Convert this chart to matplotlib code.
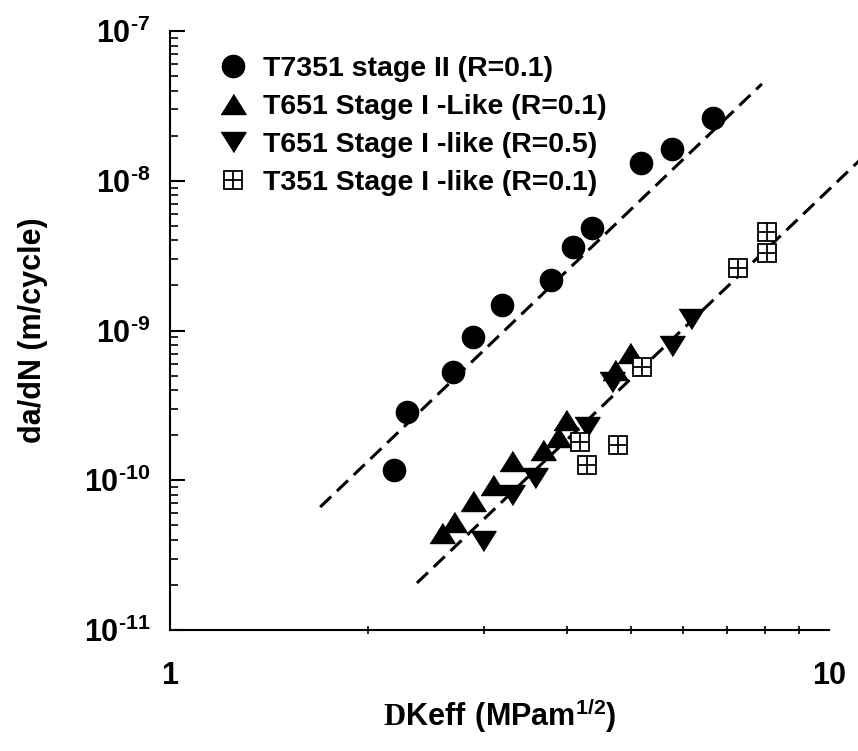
import numpy as np
import matplotlib
matplotlib.use("Agg")
import matplotlib.pyplot as plt
from matplotlib import font_manager
from matplotlib.ticker import LogLocator, FuncFormatter, NullFormatter, FixedLocator
from matplotlib.legend_handler import HandlerTuple

# data
# T7351 stage II (R=0.1)
dk_t7351 = [2.19, 2.29, 2.69, 2.88, 3.19, 3.79, 4.09, 4.37, 5.19, 5.78, 6.67]
da_t7351 = [1.17e-10, 2.86e-10, 5.28e-10, 9.05e-10, 1.48e-9, 2.17e-9, 3.61e-9,
            4.83e-9, 1.31e-8, 1.63e-8, 2.62e-8]

# T651 Stage I-like (R=0.1)
dk_t651_r01 = [2.59, 2.70, 2.88, 3.09, 3.30, 3.68, 3.88, 3.99, 4.74, 4.99]
da_t651_r01 = [4.44e-11, 5.26e-11, 7.27e-11, 9.30e-11, 1.34e-10, 1.59e-10,
               1.94e-10, 2.52e-10, 5.45e-10, 7.08e-10]

# T651 Stage I-like (R=0.5)
dk_t651_r05 = [2.99, 3.30, 3.58, 4.29, 4.69, 5.78, 6.17]
da_t651_r05 = [3.93e-11, 7.97e-11, 1.03e-10, 2.27e-10, 4.53e-10, 7.88e-10, 1.19e-9]

# T351 Stage I-like (R=0.1)
dk_t351 = [4.19, 4.29, 4.79, 5.20, 7.28, 8.05, 8.05]
da_t351 = [1.80e-10, 1.26e-10, 1.72e-10, 5.71e-10, 2.61e-9, 4.55e-9, 3.29e-9]

# fitted dashed lines (end points)
fit_upper_dk = [1.69, 7.91]
fit_upper_da = [6.62e-11, 4.43e-8]
fit_lower_dk = [2.37, 11.3]
fit_lower_da = [2.06e-11, 1.46e-8]

labels = ["T7351 stage II (R=0.1)", "T651 Stage I -Like (R=0.1)",
          "T651 Stage I -like (R=0.5)", "T351 Stage I -like (R=0.1)"]

x_ticks = [1, 10]
y_ticks = [1e-11, 1e-10, 1e-9, 1e-8, 1e-7]

names = {f.name for f in font_manager.fontManager.ttflist}
narrow = "Liberation Sans Narrow" if "Liberation Sans Narrow" in names else "Liberation Sans"

plt.rcParams["font.family"] = "Liberation Sans"
plt.rcParams["font.weight"] = "bold"
plt.rcParams["mathtext.fontset"] = "custom"
plt.rcParams["mathtext.bf"] = "Liberation Sans:bold"
plt.rcParams["mathtext.rm"] = "Liberation Serif:bold"
plt.rcParams["mathtext.sf"] = narrow + ":bold"

fig = plt.figure(figsize=(8.58, 7.51), dpi=100)
ax = fig.add_axes([0.1981, 0.1611, 0.7681, 0.7976])

ax.set_xscale("log")
ax.set_yscale("log")
ax.set_xlim(1, 10)
ax.set_ylim(1e-11, 1e-7)

# dashed fits
dash_kw = dict(color="black", lw=2.2, dashes=(5, 2.6), clip_on=False)
ax.plot(fit_upper_dk, fit_upper_da, **dash_kw)
ax.plot(fit_lower_dk, fit_lower_da, **dash_kw)

tri_up = [(-1, -0.8), (1, -0.8), (0, 0.8)]
tri_dn = [(-1, 0.8), (1, 0.8), (0, -0.8)]

h1, = ax.plot(dk_t7351, da_t7351, "o", color="black", ms=16, ls="none")
h2, = ax.plot(dk_t651_r01, da_t651_r01, marker=tri_up, color="black", ms=18, ls="none")
h3, = ax.plot(dk_t651_r05, da_t651_r05, marker=tri_dn, color="black", ms=18, ls="none")
h4a, = ax.plot(dk_t351, da_t351, "s", mfc="white", mec="black", mew=1.3, ms=13, ls="none")
h4b, = ax.plot(dk_t351, da_t351, "+", mec="black", mew=1.3, ms=13, ls="none")

leg = ax.legend([h1, h2, h3, (h4a, h4b)], labels, loc="upper left",
                bbox_to_anchor=(0.07, 0.958), frameon=False,
                prop=dict(family="Liberation Sans", weight="bold", size=20.5),
                handlelength=1.2, handletextpad=0.45, labelspacing=0.42,
                borderaxespad=0, borderpad=0,
                handler_map={tuple: HandlerTuple(ndivide=1)})

# axes styling
for s in ["top", "right"]:
    ax.spines[s].set_visible(False)
for s in ["left", "bottom"]:
    ax.spines[s].set_linewidth(1.5)

HY = "\u2010"
ax.yaxis.set_major_locator(FixedLocator(y_ticks))
ax.yaxis.set_minor_locator(LogLocator(base=10, subs=np.arange(2, 10), numticks=20))
ax.yaxis.set_major_formatter(FuncFormatter(
    lambda v, p: r"$\mathbf{10^{%s%d}}$" % (HY, abs(round(np.log10(v))))))
ax.yaxis.set_minor_formatter(NullFormatter())
ax.xaxis.set_major_locator(FixedLocator(x_ticks))
ax.xaxis.set_minor_locator(LogLocator(base=10, subs=np.arange(2, 10), numticks=20))
ax.xaxis.set_major_formatter(FuncFormatter(lambda v, p: "%d" % round(v)))
ax.xaxis.set_minor_formatter(NullFormatter())

ax.tick_params(axis="y", which="major", direction="in", length=11, width=1.5,
               labelsize=22, pad=14)
ax.tick_params(axis="y", which="minor", direction="in", length=6, width=1.2)
ax.tick_params(axis="x", which="major", direction="in", length=0, labelsize=22, pad=22)
ax.tick_params(axis="x", which="minor", direction="inout", length=6, width=1.2)
for t in ax.get_xticklabels():
    t.set_fontweight("bold")

ax.set_ylabel("da/dN (m/cycle)", fontsize=22, fontweight="bold", labelpad=26)
ax.set_xlabel(r"$\mathrm{D}\mathsf{Keff\ (MPam^{1/2})}$", fontsize=22, labelpad=4)

fig.savefig("out.png", dpi=100)
